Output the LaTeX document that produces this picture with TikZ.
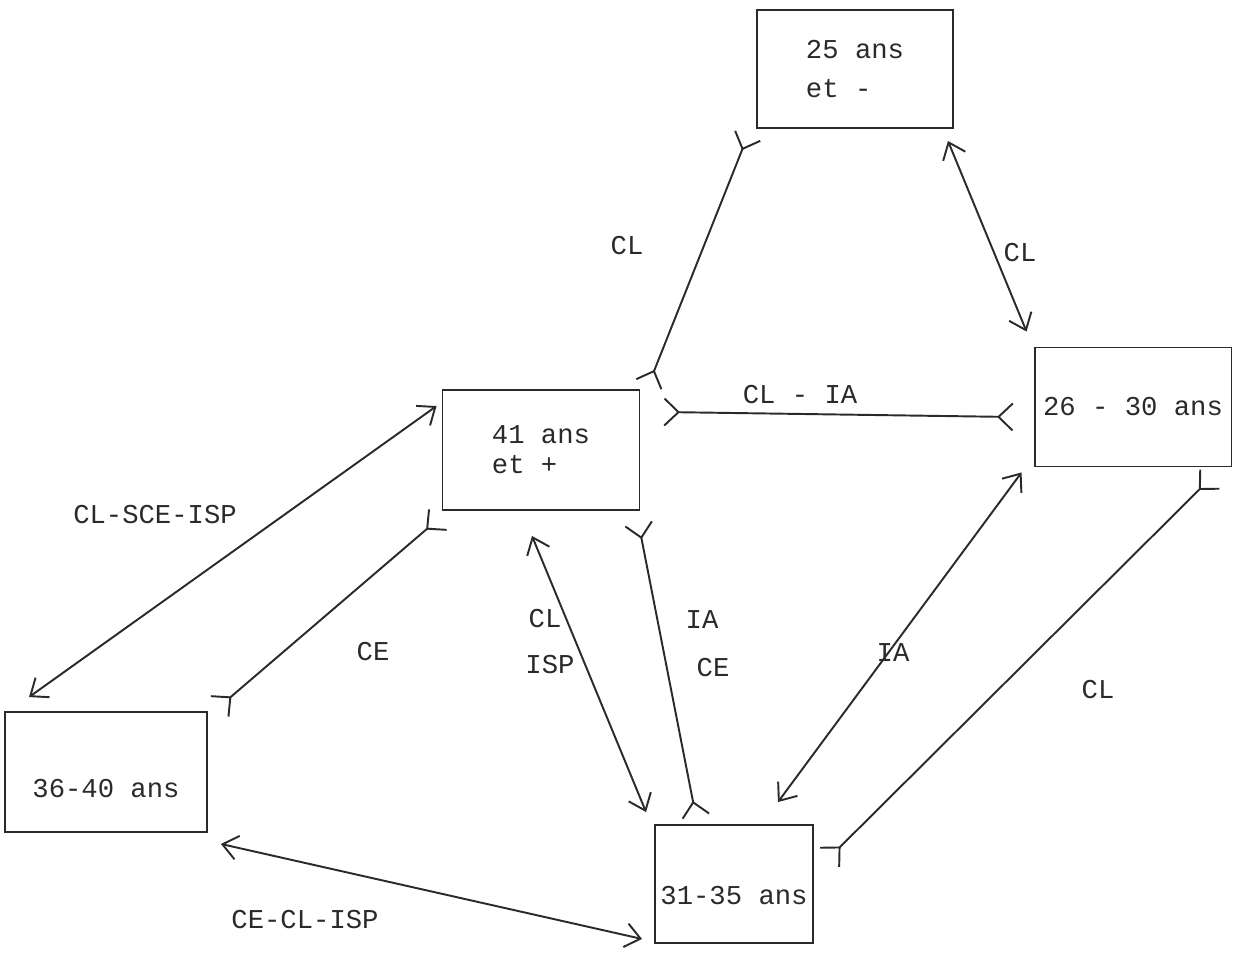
\documentclass[tikz,border=0pt]{standalone}
\usepackage{fontspec}
\setmonofont{Liberation Mono}
\usetikzlibrary{arrows.meta}

\definecolor{ink}{HTML}{2A2A2A}
\newcommand{\tw}[1]{\ttfamily\fontsize{15.5}{#1}\selectfont}

\tikzset{
  agebox/.style={draw=ink, line width=1.1pt, align=left, text=ink, font=\tw{22}, inner sep=0pt},
  lbl/.style={font=\tw{18}, text=ink},
  link/.style={draw=ink, line width=1.1pt},
  vv/.style={link, {Straight Barb[length=3mm,width=4.8mm]}-{Straight Barb[length=3mm,width=4.8mm]}},
  yy/.style={link, {Straight Barb[reversed,length=2.8mm,width=5.4mm]}-{Straight Barb[reversed,length=2.8mm,width=5.4mm]}}
}

\begin{document}
\begin{tikzpicture}[x=0.02cm, y=-0.02cm]
  \useasboundingbox (0,0) rectangle (1237,954);

  \node[agebox, minimum width=3.92cm, minimum height=2.36cm] (b25) at (855,69) {25 ans\\et -};
  \node[agebox, minimum width=3.94cm, minimum height=2.40cm, font=\tw{17}] (b41) at (541,450) {41 ans\\et +};
  \node[agebox, minimum width=3.94cm, minimum height=2.38cm] (b26) at (1133,407) {26 - 30 ans};
  \node[agebox, minimum width=4.04cm, minimum height=2.40cm, text height=1cm, text depth=0pt] (b36) at (106,772) {36-40 ans};
  \node[agebox, minimum width=3.16cm, minimum height=2.36cm, text height=0.8cm, text depth=0pt] (b31) at (734,884) {31-35 ans};

  \draw[yy] ([shift={(-8,6)}]b25.south west) -- ([shift={(8,-4)}]b41.north east);
  \draw[vv] ([shift={(-6,12)}]b25.south east) -- ([shift={(-7,-15)}]b26.north west);
  \draw[yy] ([shift={(23,-38)}]b41.east) -- ([shift={(-20,10)}]b26.west);
  \draw[vv] ([shift={(-5,17)}]b41.north west) -- ([shift={(25,-14)}]b36.north west);
  \draw[yy] ([shift={(-3,8)}]b41.south west) -- ([shift={(11,-4)}]b36.north east);
  \draw[vv] ([shift={(-9,25)}]b41.south) -- ([shift={(-8,-12)}]b31.north west);
  \draw[yy] ([shift={(-2,12)}]b41.south east) -- ([shift={(42,-7)}]b31.north west);
  \draw[vv] ([shift={(-12,5)}]b26.south west) -- ([shift={(-36,-22)}]b31.north east);
  \draw[yy] ([shift={(-22,11)}]b26.south east) -- ([shift={(15,-26)}]b31.east);
  \draw[vv] ([shift={(13,11)}]b36.south east) -- ([shift={(-12,-5)}]b31.south west);

  \node[lbl] (l1) at (627,246) {CL};
  \node[lbl] (l2) at (1020,253) {CL};
  \node[lbl] (l3) at (800,395) {CL - IA};
  \node[lbl] (l4) at (155,515) {CL-SCE-ISP};
  \node[lbl] (l5) at (373,652) {CE};
  \node[lbl] (l6) at (545,619) {CL};
  \node[lbl] (l7) at (550,665) {ISP};
  \node[lbl] (l8) at (702,620) {IA};
  \node[lbl] (l9) at (713,668) {CE};
  \node[lbl] (l10) at (893,653) {IA};
  \node[lbl] (l11) at (1098,690) {CL};
  \node[lbl] (l12) at (305,920) {CE-CL-ISP};
\end{tikzpicture}
\end{document}
